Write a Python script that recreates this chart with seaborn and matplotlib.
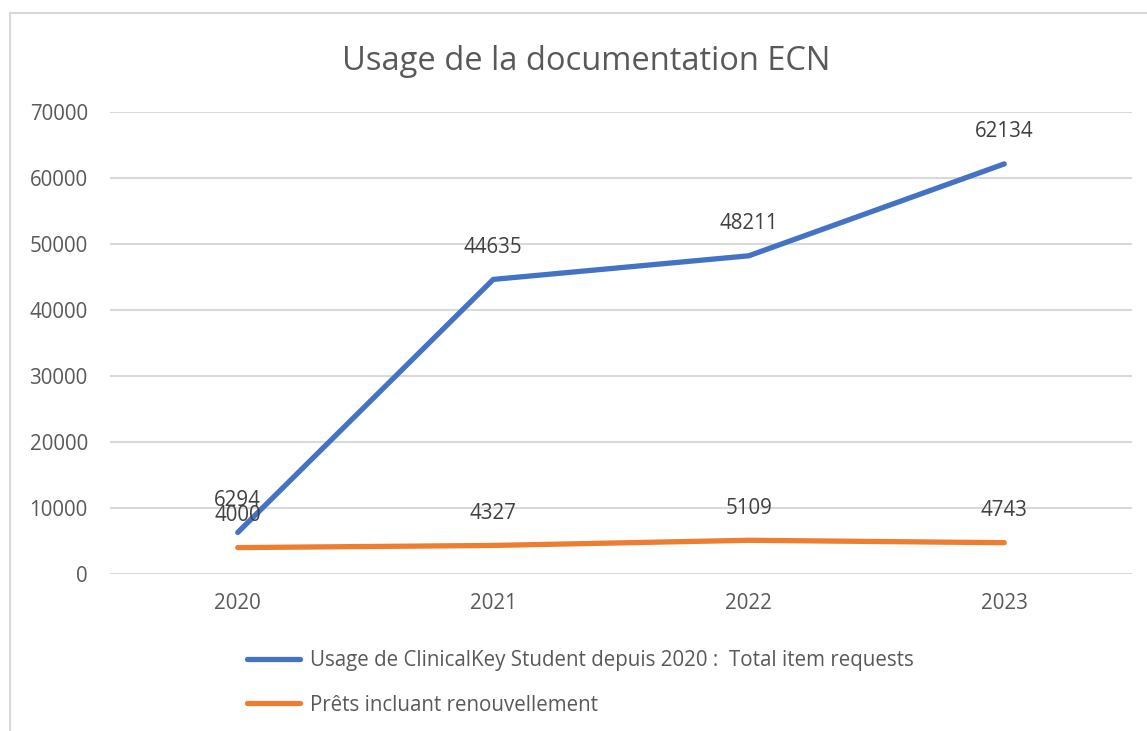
import matplotlib
matplotlib.use("Agg")
import matplotlib.pyplot as plt
import seaborn as sns
import pandas as pd
from matplotlib.patches import Rectangle

years = ["2020", "2021", "2022", "2023"]
clinicalkey = [6294, 44635, 48211, 62134]
prets = [4000, 4327, 5109, 4743]
series_names = ["Usage de ClinicalKey Student depuis 2020 :  Total item requests",
                "Prêts incluant renouvellement"]
yticks = [0, 10000, 20000, 30000, 40000, 50000, 60000, 70000]

sns.set_style("white")
plt.rcParams['font.family'] = ['Open Sans', 'DejaVu Sans']

df = pd.DataFrame({
    "year": years * 2,
    "value": clinicalkey + prets,
    "series": [series_names[0]] * 4 + [series_names[1]] * 4,
})

W, H = 1147, 731
fig = plt.figure(figsize=(W / 100, H / 100), dpi=100)
ax = fig.add_axes([110 / W, 1 - 574 / H, (1132 - 110) / W, (574 - 112) / H])

# chart border
fig.patches.append(Rectangle((10 / W, -0.1), 1.2, 1 - 13 / H + 0.1, transform=fig.transFigure,
                             fill=False, edgecolor="#d9d9d9", linewidth=1.5))

palette = {series_names[0]: "#4472C4", series_names[1]: "#ED7D31"}
sns.lineplot(data=df, x="year", y="value", hue="series", palette=palette, ax=ax,
             linewidth=3.8, sort=False, legend=True, solid_capstyle="round")

ax.set_xlim(-0.5, 3.5)
ax.set_ylim(0, 70000)
ax.set_yticks(yticks)
ax.set_yticklabels([str(v) for v in yticks])
ax.grid(axis="y", color="#d9d9d9", linewidth=1.5)
ax.set_axisbelow(True)
for s in ax.spines.values():
    s.set_visible(False)
ax.tick_params(axis="both", length=0, labelsize=14.8, labelcolor="#595959")
ax.tick_params(axis="y", pad=16)
ax.tick_params(axis="x", pad=14)
ax.set_xlabel("")
ax.set_ylabel("")

for vals in (clinicalkey, prets):
    for i, v in enumerate(vals):
        ax.annotate(str(v), (i, v), xytext=(0, 23), textcoords="offset points",
                    ha="center", va="center", fontsize=14.8, color="#404040")

fig.text(586.5 / W, 1 - 61 / H, "Usage de la documentation ECN", fontsize=23.5,
         color="#595959", ha="center", va="center")

handles, labels = ax.get_legend_handles_labels()
ax.get_legend().remove()
leg = fig.legend(handles, labels, loc="upper left", bbox_to_anchor=(247 / W, 1 - 650 / H),
                 frameon=False, fontsize=14.8, handlelength=2.6, handletextpad=0.45,
                 labelspacing=1.15, borderpad=0, borderaxespad=0)
for t in leg.get_texts():
    t.set_color("#595959")
for l in leg.get_lines():
    l.set_linewidth(3.8)
    l.set_solid_capstyle("round")

fig.savefig("out.png", dpi=100)
